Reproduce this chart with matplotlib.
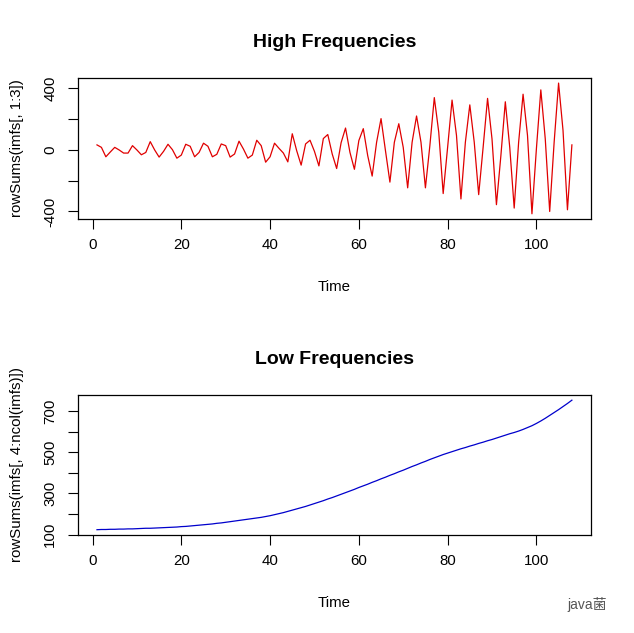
import matplotlib.pyplot as plt
import numpy as np

plt.rcParams['font.family'] = ['Liberation Sans', 'Noto Sans CJK SC', 'DejaVu Sans']

# high frequency part: rowSums(imfs[, 1:3])
high = [31, 15, -46, -15, 15, -2, -22, -22, 26, -2,
        -33, -18, 52, -2, -48, -11, 35, 0, -55, -35,
        35, 22, -46, -18, 42, 22, -46, -30, 37, 26,
        -48, -28, 55, 4, -55, -35, 61, 26, -81, -46,
        42, 9, -22, -79, 103, -7, -100, 37, 61, -11,
        -105, 72, 98, -28, -122, 45, 140, -18, -127, 59,
        136, -39, -171, 48, 201, -7, -210, 48, 168, 15,
        -247, 48, 218, 48, -247, 26, 337, 114, -284, 15,
        321, 92, -319, 48, 290, 48, -291, 15, 332, 70,
        -356, -39, 310, 15, -378, 48, 359, 92, -415, 4,
        387, 70, -400, 48, 431, 125, -389, 31]

# low frequency part: rowSums(imfs[, 4:ncol(imfs)])
low = [124, 125, 125, 126, 126, 127, 127, 128, 128, 129,
       130, 131, 131, 132, 133, 134, 135, 136, 137, 139,
       140, 142, 144, 146, 148, 150, 152, 155, 157, 160,
       163, 166, 169, 172, 175, 178, 181, 184, 188, 192,
       197, 202, 207, 213, 219, 225, 231, 237, 244, 251,
       258, 265, 273, 280, 288, 296, 304, 312, 320, 329,
       337, 345, 354, 362, 371, 379, 388, 396, 405, 413,
       422, 431, 439, 448, 456, 465, 473, 481, 489, 496,
       503, 510, 517, 523, 530, 536, 543, 549, 556, 562,
       569, 576, 583, 590, 596, 603, 611, 620, 629, 640,
       652, 665, 679, 693, 707, 722, 737, 753]

x_ticks = [0, 20, 40, 60, 80, 100]
high_ticks = [-400, -200, 0, 200, 400]
high_labels = ['-400', '', '0', '', '400']
low_ticks = [100, 200, 300, 400, 500, 600, 700]
low_labels = ['100', '', '300', '', '500', '', '700']


def r_style(ax, data, yticks, ylabels, title, ylabel, color):
    t = np.arange(1, len(data) + 1)
    ax.plot(t, data, color=color, lw=0.9)
    # R pads the ranges by 4%
    xr = t.max() - t.min()
    ax.set_xlim(t.min() - 0.04 * xr, t.max() + 0.04 * xr)
    yr = max(data) - min(data)
    ax.set_ylim(min(data) - 0.04 * yr, max(data) + 0.04 * yr)
    ax.set_xticks(x_ticks)
    ax.set_yticks(yticks)
    ax.set_yticklabels(ylabels, rotation=90, va='center')
    ax.tick_params(direction='out', length=7, width=0.8, labelsize=10.8)
    ax.tick_params(axis='x', pad=7)
    ax.tick_params(axis='y', pad=8)
    for s in ax.spines.values():
        s.set_linewidth(0.9)
    ax.set_title(title, fontsize=14, fontweight='bold', pad=22.5)
    ax.set_xlabel('Time', fontsize=10.8, labelpad=20)
    ax.set_ylabel(ylabel, fontsize=10.8, labelpad=14)


fig = plt.figure(figsize=(6.34, 6.33), dpi=100)
ax1 = fig.add_axes([0.123, 0.654, 0.809, 0.223])
ax2 = fig.add_axes([0.123, 0.155, 0.809, 0.221])

r_style(ax1, high, high_ticks, high_labels, 'High Frequencies',
        'rowSums(imfs[, 1:3])', '#E00000')
r_style(ax2, low, low_ticks, low_labels, 'Low Frequencies',
        'rowSums(imfs[, 4:ncol(imfs)])', '#0000CC')

fig.text(0.926, 0.045, 'java菌', fontsize=10, color='#555555',
         ha='center', va='center')

fig.savefig('out.png', dpi=100)
